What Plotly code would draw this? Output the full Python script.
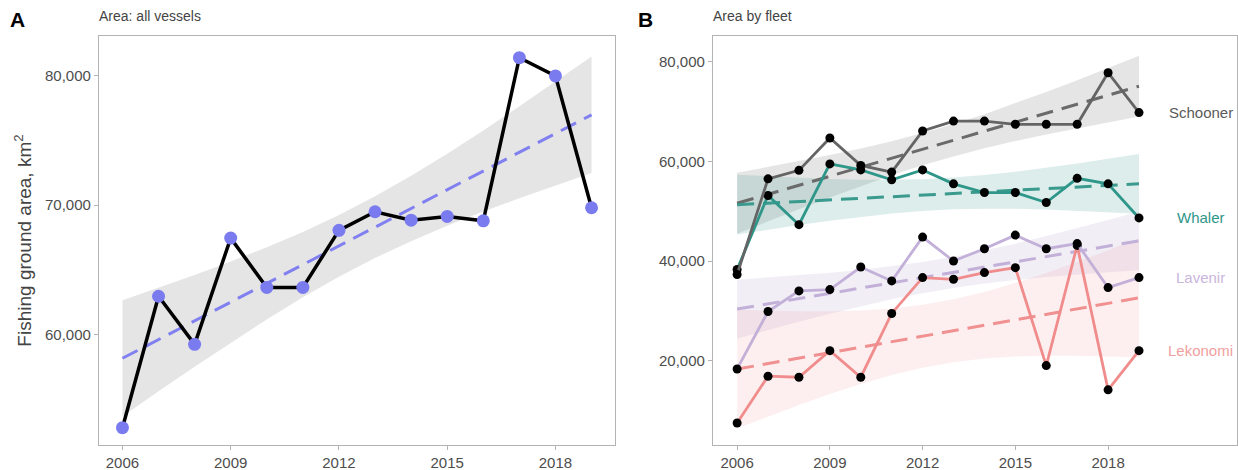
import plotly.graph_objects as go

W, H = 1238, 470

# ---------------- data ----------------
years = list(range(2006, 2020))
year_ticks = [2006, 2009, 2012, 2015, 2018]

# Panel A: all vessels
all_area = [52780, 62950, 59230, 67450, 63630, 63630, 68050,
            69490, 68840, 69130, 68790, 81410, 80000, 69800]
all_trend_x = [2006, 2019]
all_trend_y = [58150, 76990]
all_band_hi = [62650, 63610, 64600, 65640, 66740, 67930, 69240,
               70690, 72270, 73980, 75780, 77650, 79550, 81500]
all_band_lo = [53650, 55590, 57500, 59360, 61160, 62870, 64460,
               65910, 67210, 68400, 69500, 70540, 71530, 72490]

# Panel B: by fleet
fleets = ["Schooner", "Whaler", "Lavenir", "Lekonomi"]
schooner = [37300, 56500, 58200, 64700, 59200, 57850, 66100,
            68100, 68100, 67450, 67450, 67450, 77800, 69800]
whaler = [38300, 53150, 47300, 59500, 58300, 56300, 58300,
          55500, 53750, 53750, 51750, 56600, 55500, 48650]
lavenir = [18330, 29870, 34000, 34270, 38800, 36000, 44800,
           40000, 42470, 45200, 42470, 43500, 34670, 36670]
lekonomi = [7470, 16870, 16670, 22000, 16670, 29470, 36670,
            36330, 37670, 38670, 19000, 43130, 14130, 22000]

schooner_trend = [51600, 75100]
whaler_trend = [51300, 55500]
lavenir_trend = [30350, 44050]
lekonomi_trend = [18300, 32600]

schooner_hi = [57700, 58850, 60030, 61280, 62610, 64070, 65690,
               67490, 69490, 71650, 73940, 76300, 78730, 81200]
schooner_lo = [45500, 47970, 50400, 52770, 55050, 57210, 59210,
               61010, 62630, 64090, 65420, 66670, 67850, 69000]
whaler_hi = [57300, 56980, 56690, 56460, 56310, 56290, 56420,
             56750, 57260, 57930, 58720, 59590, 60530, 61500]
whaler_lo = [45300, 46270, 47210, 48080, 48870, 49540, 50050,
             50380, 50510, 50490, 50340, 50110, 49830, 49500]
lavenir_hi = [36250, 36670, 37120, 37630, 38220, 38940, 39810,
              40860, 42100, 43490, 45010, 46600, 48260, 49950]
lavenir_lo = [24450, 26140, 27800, 29390, 30910, 32300, 33540,
              34590, 35470, 36180, 36770, 37280, 37730, 38150]
lekonomi_hi = [30200, 30020, 29900, 29910, 30080, 30490, 31220,
               32320, 33790, 35580, 37610, 39800, 42120, 44500]
lekonomi_lo = [6400, 8790, 11100, 13290, 15320, 17110, 18580,
               19680, 20410, 20820, 20990, 21000, 20890, 20700]

label_x = 2021

# ---------------- styles ----------------
FONT = "Liberation Sans, Arial, Helvetica, sans-serif"
TICK_COL = "#4d4d4d"
FRAME_COL = "#b3b3b3"

series = [
    (schooner, schooner_trend, schooner_hi, schooner_lo, "#646464", "#6a6a6a", "rgba(0,0,0,0.10)", "#5a5a5a"),
    (whaler, whaler_trend, whaler_hi, whaler_lo, "#2f968a", "#3a9a8d", "rgba(47,150,138,0.17)", "#2f968a"),
    (lavenir, lavenir_trend, lavenir_hi, lavenir_lo, "#c2b0d8", "#c2b0d8", "rgba(194,176,216,0.22)", "#c9b6dd"),
    (lekonomi, lekonomi_trend, lekonomi_hi, lekonomi_lo, "#f08c8c", "#f09090", "rgba(240,128,128,0.13)", "#f0a0a0"),
]

fig = go.Figure()

# Panel A band, trend, line
fig.add_trace(go.Scatter(
    x=years + years[::-1], y=all_band_hi + all_band_lo[::-1],
    fill="toself", fillcolor="rgba(0,0,0,0.10)", line=dict(width=0),
    mode="lines", hoverinfo="skip", showlegend=False, xaxis="x", yaxis="y"))
fig.add_trace(go.Scatter(
    x=all_trend_x, y=all_trend_y, mode="lines",
    line=dict(color="#8080f0", width=3, dash="17px,9px"),
    showlegend=False, xaxis="x", yaxis="y"))
fig.add_trace(go.Scatter(
    x=years, y=all_area, mode="lines+markers",
    line=dict(color="black", width=3.5),
    marker=dict(color="#7b7bf0", size=13),
    showlegend=False, xaxis="x", yaxis="y"))

# Panel B bands
for vals, tr, hi, lo, lc, dc, bc, tc in series:
    fig.add_trace(go.Scatter(
        x=years + years[::-1], y=hi + lo[::-1],
        fill="toself", fillcolor=bc, line=dict(width=0),
        mode="lines", hoverinfo="skip", showlegend=False,
        xaxis="x2", yaxis="y2"))
# trends
for vals, tr, hi, lo, lc, dc, bc, tc in series:
    fig.add_trace(go.Scatter(
        x=[years[0], years[-1]], y=tr, mode="lines",
        line=dict(color=dc, width=3, dash="17px,9px"),
        showlegend=False, xaxis="x2", yaxis="y2"))
# series lines (reverse so that Schooner sits on top)
for vals, tr, hi, lo, lc, dc, bc, tc in series[::-1]:
    fig.add_trace(go.Scatter(
        x=years, y=vals, mode="lines+markers",
        line=dict(color=lc, width=2.8),
        marker=dict(color="black", size=9),
        showlegend=False, xaxis="x2", yaxis="y2"))

annotations = []
for name, (vals, tr, hi, lo, lc, dc, bc, tc) in zip(fleets, series):
    annotations.append(dict(
        x=label_x, y=vals[-1], xref="x2", yref="y2", text=name,
        showarrow=False, xanchor="center", yanchor="middle",
        font=dict(family=FONT, size=15, color=tc)))


def px(xp):
    return xp / W


def py(yp):
    return 1 - yp / H


annotations += [
    dict(x=px(8), y=py(19), xref="paper", yref="paper", text="<b>A</b>",
         showarrow=False, xanchor="left", yanchor="middle",
         font=dict(family=FONT, size=21, color="black")),
    dict(x=px(97), y=py(16), xref="paper", yref="paper", text="Area: all vessels",
         showarrow=False, xanchor="left", yanchor="middle",
         font=dict(family=FONT, size=14, color="#444444")),
    dict(x=px(636), y=py(19), xref="paper", yref="paper", text="<b>B</b>",
         showarrow=False, xanchor="left", yanchor="middle",
         font=dict(family=FONT, size=21, color="black")),
    dict(x=px(711), y=py(16), xref="paper", yref="paper", text="Area by fleet",
         showarrow=False, xanchor="left", yanchor="middle",
         font=dict(family=FONT, size=14, color="#444444")),
]

axis_common = dict(
    showline=True, mirror=True, linecolor=FRAME_COL, linewidth=1.2,
    ticks="outside", ticklen=4, tickcolor=FRAME_COL, tickwidth=1,
    showgrid=False, zeroline=False,
    tickfont=dict(family=FONT, size=15, color=TICK_COL),
)

fig.update_layout(
    width=W, height=H,
    margin=dict(l=0, r=0, t=0, b=0),
    paper_bgcolor="white", plot_bgcolor="white",
    showlegend=False,
    annotations=annotations,
    xaxis=dict(domain=[px(99), px(615)], range=[2005.35, 2019.65],
               tickvals=year_ticks, anchor="y", **axis_common),
    yaxis=dict(domain=[py(445), py(36)], range=[51440, 83090],
               tickvals=[60000, 70000, 80000], tickformat=",",
               anchor="x",
               title=dict(text="Fishing ground area, km<sup>2</sup>",
                          font=dict(family=FONT, size=19, color="#444444"),
                          standoff=8),
               **axis_common),
    xaxis2=dict(domain=[px(713), px(1237)], range=[2005.22, 2022.17],
                tickvals=year_ticks, anchor="y2", **axis_common),
    yaxis2=dict(domain=[py(445), py(36)], range=[3060, 85180],
                tickvals=[20000, 40000, 60000, 80000], tickformat=",",
                anchor="x2", **axis_common),
)

fig.write_html("out.html")
